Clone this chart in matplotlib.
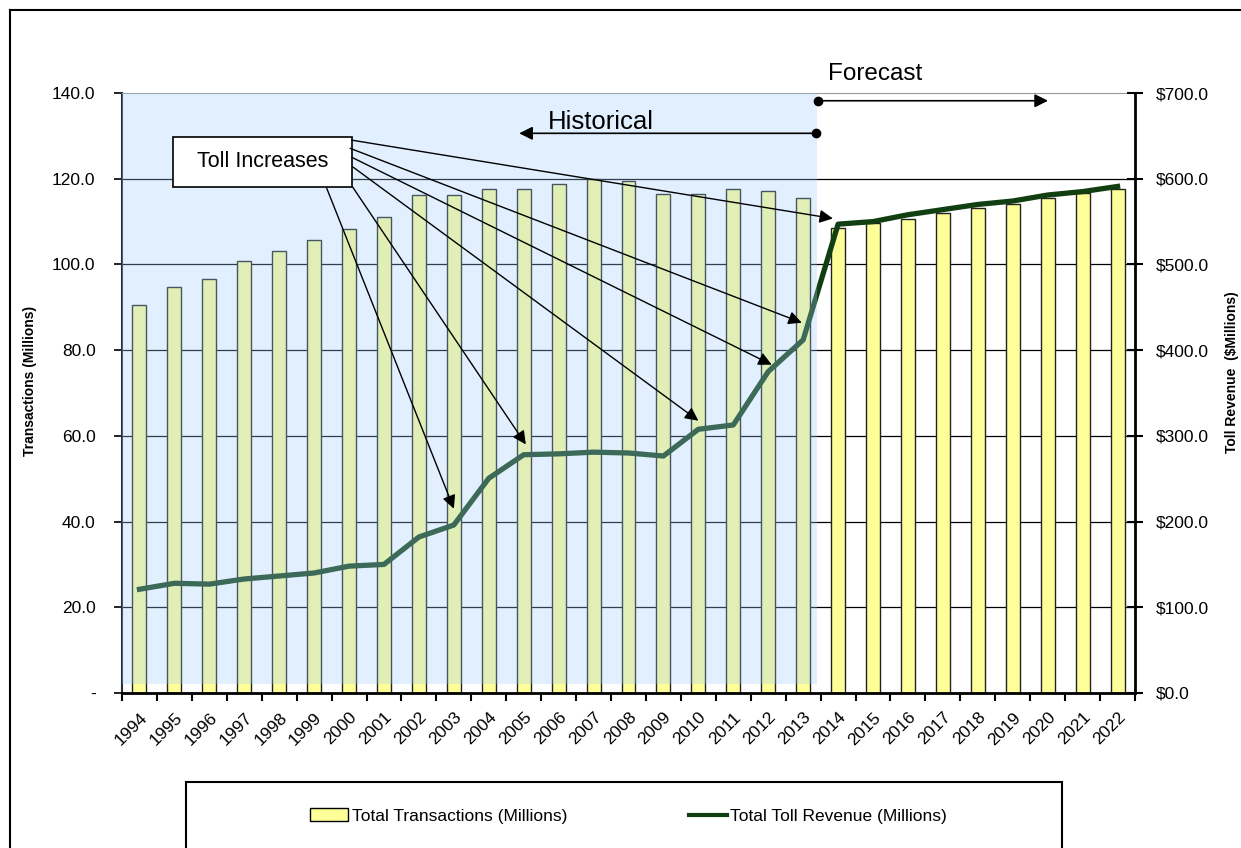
import numpy as np
import matplotlib.pyplot as plt
from matplotlib.patches import Rectangle
from matplotlib.lines import Line2D

plt.rcParams['font.family'] = ['Liberation Sans', 'DejaVu Sans']

years = list(range(1994, 2023))

# transactions in millions (left axis)
transactions = [90.5, 94.7, 96.5, 100.8, 103.1, 105.7, 108.3, 111.0, 116.1, 116.1,
                117.5, 117.7, 118.8, 119.9, 119.5, 116.4, 116.5, 117.7, 117.2, 115.5,
                108.6, 109.7, 110.7, 111.9, 113.1, 114.1, 115.4, 116.6, 117.5]

# toll revenue in $ millions (right axis)
revenue = [121, 128, 127, 133, 136.5, 140, 148, 150, 182, 196,
           250.5, 278, 279, 281, 280, 276.5, 307.7, 312.7, 375, 412,
           547, 550, 558, 564, 570, 574, 581, 585, 591]

toll_increase_years = [2014, 2013, 2012, 2010, 2005, 2003]
last_historical = 2013

left_ticks = [0, 20, 40, 60, 80, 100, 120, 140]
right_ticks = [0, 100, 200, 300, 400, 500, 600, 700]

fig = plt.figure(figsize=(12.41, 8.48), dpi=100)
ax = fig.add_axes([0.0983, 0.1828, 0.8163, 0.7075])

x = np.arange(len(years))
ax.bar(x, transactions, width=0.4, color='#FFFF99', edgecolor='#222222',
       linewidth=1, zorder=2, label='Total Transactions (Millions)')
ax.set_xlim(-0.5, len(years) - 0.5)
ax.set_ylim(0, 140)

for t in left_ticks[1:-1]:
    ax.axhline(t, color='black', lw=0.9, zorder=1)

ax.set_yticks(left_ticks)
ax.set_yticklabels(['-' if t == 0 else '%.1f' % t for t in left_ticks])
ax.tick_params(axis='y', length=6, width=1.2, pad=13, labelsize=12.5)

ax.set_xticks(x)
ax.set_xticklabels([str(y) for y in years], rotation=45, ha='right', va='top',
                   rotation_mode='anchor', fontsize=12.5)
ax.tick_params(axis='x', which='major', length=0, pad=12)
ax.set_xticks(np.arange(-0.5, len(years)), minor=True)
ax.tick_params(axis='x', which='minor', length=6, width=1.5)

ax.spines['top'].set_color('#999999')
ax.spines['left'].set_color('#22303c')
ax.spines['left'].set_linewidth(1.5)
ax.spines['bottom'].set_linewidth(2)
ax.spines['right'].set_visible(False)

ax.set_ylabel('Transactions (Millions)', fontsize=10, fontweight='bold', va='center')
ax.yaxis.set_label_coords(-0.091, 0.52)

ax2 = ax.twinx()
ax2.set_ylim(0, 700)
ax2.plot(x, revenue, color='#123f12', lw=3.8, zorder=3,
         solid_joinstyle='round', label='Total Toll Revenue (Millions)')
ax2.set_yticks(right_ticks)
ax2.set_yticklabels(['$%.1f' % t for t in right_ticks])
ax2.tick_params(axis='y', direction='inout', length=12, width=1.5, pad=9, labelsize=12.5)
for s in ['top', 'left', 'bottom']:
    ax2.spines[s].set_visible(False)
ax2.spines['right'].set_linewidth(2)
ax2.set_ylabel('Toll Revenue  ($Millions)', fontsize=10, fontweight='bold', va='center')
ax2.yaxis.set_label_coords(1.0958, 0.535)

# historical period shading
hist_end = years.index(last_historical) + 0.4
ax2.add_patch(Rectangle((-0.5, 11), hist_end + 0.5, 689, facecolor='#9ECDFC',
                        alpha=0.3, edgecolor='none', zorder=4))

# "Toll Increases" callout
ax2.add_patch(Rectangle((0.96, 590.4), 5.125, 58.4, facecolor='white',
                        edgecolor='black', lw=1.2, zorder=6))
ax2.text(3.52, 619.6, 'Toll Increases', fontsize=15.5, ha='center', va='center', zorder=7)

sources = [(6.08, 645), (6.03, 635.5), (6.08, 625), (6.1, 614), (6.1, 590.5), (5.36, 589)]
offsets = [(-0.15, 6.6), (-0.04, 20), (0.1, 8), (0.0, 10), (0.06, 12), (0.0, 19)]
for yr, src, off in zip(toll_increase_years, sources, offsets):
    i = years.index(yr)
    ax2.annotate('', xy=(i + off[0], revenue[i] + off[1]), xytext=src,
                 arrowprops=dict(arrowstyle='-|>', color='black', lw=1,
                                 mutation_scale=20, shrinkA=0, shrinkB=0),
                 zorder=6)

# historical / forecast markers
ax2.annotate('', xy=(10.87, 653), xytext=(19.37, 653),
             arrowprops=dict(arrowstyle='-|>', color='black', lw=1.2,
                             mutation_scale=20, shrinkA=0, shrinkB=0), zorder=6)
ax2.plot(19.37, 653, 'o', color='black', ms=6, zorder=6)
ax2.text(13.21, 666, 'Historical', fontsize=18.5, ha='center', va='center', zorder=7)

ax2.annotate('', xy=(26.01, 691), xytext=(19.43, 691),
             arrowprops=dict(arrowstyle='-|>', color='black', lw=1.2,
                             mutation_scale=20, shrinkA=0, shrinkB=0),
             zorder=6, annotation_clip=False)
ax2.plot(19.43, 691, 'o', color='black', ms=6, zorder=6, clip_on=False)
ax2.text(21.06, 722, 'Forecast', fontsize=17.5, ha='center', va='center',
         zorder=7, clip_on=False)

# legend box at the bottom
fig.add_artist(Rectangle((0.1499, -0.01), 0.706, 0.0878, transform=fig.transFigure,
                         facecolor='none', edgecolor='black', lw=1.5))
handles = [Rectangle((0, 0), 1, 1, facecolor='#FFFF99', edgecolor='black', lw=1),
           Line2D([0], [0], color='#123f12', lw=3)]
fig.legend(handles, ['Total Transactions (Millions)', 'Total Toll Revenue (Millions)'],
           loc='center', bbox_to_anchor=(0.5064, 0.0377), ncol=2, frameon=False,
           fontsize=12.5, handlelength=2.2, handletextpad=0.2, columnspacing=7)

# outer frame
fig.add_artist(Line2D([0.008, 0.008], [0, 0.988], transform=fig.transFigure,
                      color='black', lw=1.5))
fig.add_artist(Line2D([0.008, 1.0], [0.988, 0.988], transform=fig.transFigure,
                      color='black', lw=1.5))

fig.savefig('out.png', dpi=100)
